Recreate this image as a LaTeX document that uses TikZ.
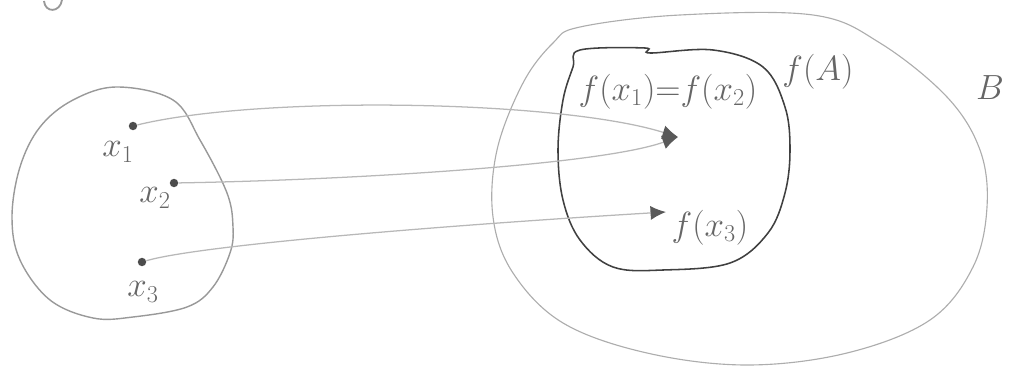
\documentclass[tikz,border=0pt]{standalone}
\usepackage{amsmath,amssymb}
\usepackage{xcolor}
\usetikzlibrary{arrows.meta}

\begin{document}
\begin{tikzpicture}[x=0.025cm,y=-0.025cm,
  pencil/.style={line width=0.8pt,draw=black!40},
  ink/.style={line width=1.1pt,draw=black!75},
  mapline/.style={line width=0.9pt,draw=black!28,-{Latex[length=11pt,width=10pt,color=black!65]}},
  lbl/.style={text=black!60,font=\fontsize{23}{27}\selectfont},
  pt/.style={circle,fill=black!70,inner sep=0pt,minimum size=6pt}]
\useasboundingbox (0,0) rectangle (1032,367);
\draw[pencil,line width=1.3pt] (44,1) .. controls (45,13) and (60,13) .. (62,0);
\draw[pencil,line width=1pt] plot[smooth cycle,tension=0.6] coordinates {(117,87) (173,100) (200,140) (227,193) (233,227) (230,253) (213,287) (187,307) (133,317) (93,318) (50,300) (20,260) (12,217) (20,167) (40,127) (73,100)};
\draw[pencil,draw=black!32] plot[smooth cycle,tension=0.6] coordinates {(580,27) (680,15) (813,15) (880,43) (947,97) (980,150) (987,207) (973,267) (930,320) (847,353) (747,365) (647,353) (563,323) (513,273) (493,217) (497,150) (523,83) (553,43)};
\draw[ink] plot[smooth cycle,tension=0.6] coordinates {(580,50) (645,48) (650,53) (713,50) (763,67) (785,107) (790,150) (785,193) (768,233) (730,263) (663,270) (613,267) (580,240) (563,200) (558,150) (563,100) (573,67)};
\node[pt] (x1) at (133,126) {};
\node[pt] (x2) at (174,183) {};
\node[pt] (x3) at (142,262) {};
\node[lbl] (lx1) at (118,152) {$x_1$};
\node[lbl] (lx2) at (155,198) {$x_2$};
\node[lbl] (lx3) at (143,292) {$x_3$};
\coordinate (f12) at (678,137);
\coordinate (f3) at (666,212);
\node[lbl] (lf12) at (668,92) {$f(x_1){=}f(x_2)$};
\node[lbl] (lf3) at (710,228) {$f(x_3)$};
\node[lbl] (lfA) at (818,72) {$f(A)$};
\node[lbl] (lB) at (990,88) {$B$};
\draw[mapline] (x1) .. controls (260,95) and (560,100) .. (f12);
\draw[mapline] (x2) .. controls (350,180) and (600,165) .. (f12);
\draw[mapline] (x3) .. controls (200,245) and (450,225) .. (f3);
\end{tikzpicture}
\end{document}
